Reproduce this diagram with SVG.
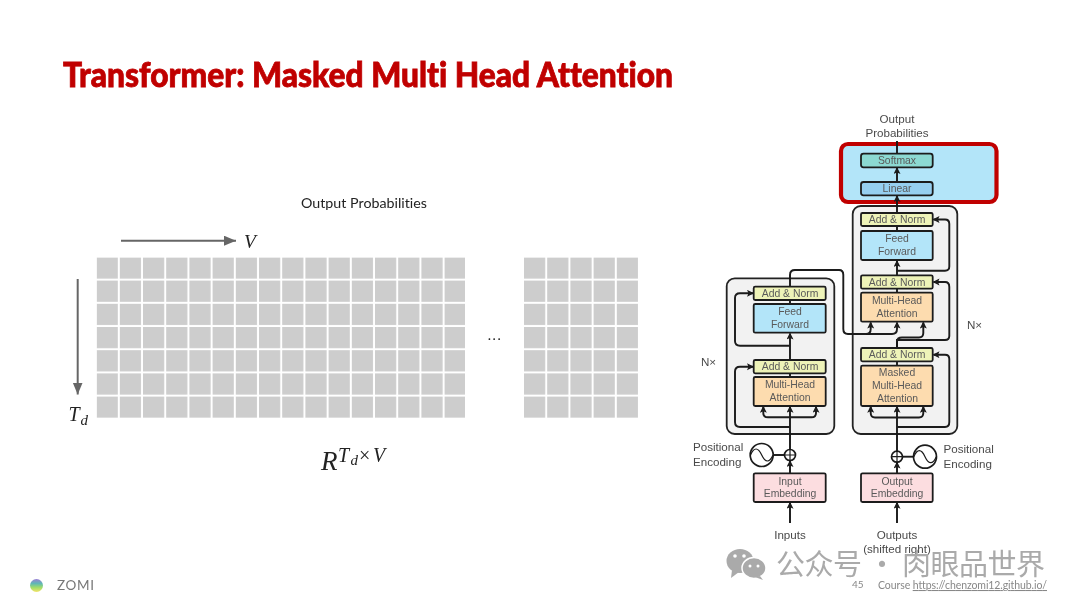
<svg xmlns="http://www.w3.org/2000/svg" width="1080" height="608" viewBox="0 0 1080 608">
<style>
text{font-variant-ligatures:none}
.cell{fill:#cdcdcd}
.lat{font-family:"Lato","Liberation Sans",sans-serif}
.math{font-family:"Liberation Serif","DejaVu Serif",serif;font-style:italic;fill:#222}
.box{stroke:#1d1d1d;stroke-width:1.8}
.stack{fill:#f2f2f2;stroke:#222;stroke-width:1.8}
.an{fill:#eef3b8}.ff{fill:#b3e5f9}.mha{fill:#fddcaf}.emb{fill:#fcdde0}
.nt{font-family:"Liberation Sans",Arial,sans-serif;font-size:10.4px;fill:#5a5a5a;text-anchor:middle}
.lb{font-family:"Liberation Sans",Arial,sans-serif;font-size:11.6px;fill:#4a4a4a}
.m{text-anchor:middle}
.cn{fill:none;stroke:#1a1a1a;stroke-width:1.9}
.ar{marker-end:url(#ah)}
.sine{fill:#fff;stroke:#1a1a1a;stroke-width:1.7}
</style>
<defs>
<marker id="ah" markerUnits="userSpaceOnUse" markerWidth="8" markerHeight="8" refX="6" refY="3.500" orient="auto"><path d="M0 0L7 3.500L0 7L1.500 3.500Z" fill="#1a1a1a"/></marker>
<marker id="gh" markerUnits="userSpaceOnUse" markerWidth="13" markerHeight="11" refX="12" refY="5" orient="auto"><path d="M0 0L12 5L0 10Z" fill="#666"/></marker>
<linearGradient id="lg" x1="0" y1="0" x2="0" y2="1"><stop offset="0" stop-color="#9a7fd6"/><stop offset=".35" stop-color="#5fb8b5"/><stop offset=".65" stop-color="#9fdc6a"/><stop offset="1" stop-color="#f5e46a"/></linearGradient>
<pattern id="gr" x="96.6" y="257.4" width="23.2" height="23.2" patternUnits="userSpaceOnUse"><rect class="cell" width="21.2" height="21.2"/></pattern>
<pattern id="gr2" x="524" y="257.4" width="23.2" height="23.2" patternUnits="userSpaceOnUse"><rect class="cell" width="21.2" height="21.2"/></pattern>
<filter id="soft" filterUnits="userSpaceOnUse" x="0" y="0" width="1080" height="608"><feGaussianBlur stdDeviation="0.4"/></filter>
</defs>
<rect width="1080" height="608" fill="#fff"/>
<g id="figure" filter="url(#soft)">
<text x="63" y="87" class="lat" font-size="34" font-weight="900" fill="#c00000" stroke="#c00000" stroke-width="0.8" textLength="610" lengthAdjust="spacingAndGlyphs">Transformer: Masked Multi Head Attention</text>
<text x="301" y="208" class="lat" font-size="14" fill="#222" textLength="126" lengthAdjust="spacingAndGlyphs">Output Probabilities</text>

<g id="matrix-left"><rect x="96.6" y="257.4" width="368.4" height="160.4" fill="url(#gr)"/></g>
<g id="matrix-right"><rect x="524" y="257.4" width="114" height="160.4" fill="url(#gr2)"/></g>
<text x="495" y="339.500" class="lat m" font-size="14" letter-spacing="1.500" fill="#222">...</text>

<g id="axes" fill="none" stroke="#666" stroke-width="2">
<path d="M121 240.7H236" marker-end="url(#gh)"/>
<path d="M77.7 279V394.5" marker-end="url(#gh)"/>
</g>
<text x="244" y="248" class="math" font-size="19.500">V</text>
<text x="68.500" y="421" class="math" font-size="20">T</text>
<text x="80.500" y="425" class="math" font-size="15">d</text>
<text x="321" y="470" class="math" font-size="27">R</text>
<text x="338" y="462" class="math" font-size="20">T</text>
<text x="350.500" y="465" class="math" font-size="15">d</text>
<text x="359" y="462" class="math" font-size="20" style="font-style:normal">×</text>
<text x="373" y="462" class="math" font-size="20">V</text>

<g id="output-highlight"><rect x="841" y="144" width="155.500" height="58" rx="7" fill="#b3e5f9" stroke="#c00000" stroke-width="4.200"/></g>

<g id="encoder-stack"><rect class="stack" x="726.700" y="278.300" width="107.600" height="155.700" rx="8"/></g>
<g id="decoder-stack"><rect class="stack" x="852.700" y="206" width="104.600" height="228" rx="8"/></g>

<g id="connectors">
<path class="cn" d="M897 153V141"/>
<path class="cn ar" d="M897 182V168"/>
<path class="cn ar" d="M897 213V196"/>
<path class="cn" d="M897 231V226"/>
<path class="cn ar" d="M897 275V261"/>
<path class="cn ar" d="M897 270.700H945Q949.300 270.700 949.300 266.500V224Q949.300 219.500 945 219.500H933.500"/>
<path class="cn" d="M897 292.700V288.700"/>
<path class="cn ar" d="M897 348V340H945Q949.300 340 949.300 336V287Q949.300 282 945 282H933.500"/>
<path class="cn ar" d="M897 348V342Q897 337.500 902 337.500H919Q923.300 337.500 923.300 333V322.500"/>
<path class="cn ar" d="M790 286.700V275Q790 270 795 270H839Q843.300 270 843.300 275V329Q843.300 334 848 334H892Q897 334 897 329V322.500"/>
<path class="cn ar" d="M866 334Q870.700 334 870.700 329V322.500"/>
<path class="cn" d="M897 365.700V361.300"/>
<path class="cn ar" d="M897 451V406.800"/>
<path class="cn ar" d="M897 417.500H875Q870.700 417.500 870.700 413V406.800"/>
<path class="cn ar" d="M897 417.500H919Q923.300 417.500 923.300 413V406.800"/>
<path class="cn ar" d="M897 427H945Q949.300 427 949.300 422V359Q949.300 354.700 945 354.700H933.500"/>
<path class="cn ar" d="M897 473.300V462.500"/>
<path class="cn ar" d="M897 523V502.800"/>
<path class="cn" d="M902.500 456.700H913.500"/>
<path class="cn" d="M790 304V300"/>
<path class="cn ar" d="M790 360V333.500"/>
<path class="cn ar" d="M790 345.700H740Q735 345.700 735 341V298Q735 293.300 740 293.300H753"/>
<path class="cn" d="M790 377V373.300"/>
<path class="cn ar" d="M790 449.500V406.800"/>
<path class="cn ar" d="M790 417.300H768Q763.300 417.300 763.300 413V406.800"/>
<path class="cn ar" d="M790 417.300H811.500Q816 417.300 816 413V406.800"/>
<path class="cn ar" d="M790 427H740Q735 427 735 422V371.500Q735 366.700 740 366.700H753"/>
<path class="cn ar" d="M790 473.300V461"/>
<path class="cn ar" d="M790 523V502.800"/>
<path class="cn" d="M773 455H784.500"/>
</g>

<g id="softmax"><rect class="box" x="861" y="153.700" width="71.700" height="13.600" rx="2.500" fill="#8cd9d2"/><text class="nt" x="897" y="164.300">Softmax</text></g>
<g id="linear"><rect class="box" x="861" y="182" width="71.700" height="13.300" rx="2.500" fill="#96cff0"/><text class="nt" x="897" y="192.400">Linear</text></g>
<g id="dec-addnorm-3"><rect class="box an" x="861" y="213" width="71.700" height="13" rx="1.500"/><text class="nt" x="897" y="223.200">Add &amp; Norm</text></g>
<g id="dec-feedforward"><rect class="box ff" x="861" y="231" width="71.700" height="29" rx="1.500"/><text class="nt" x="897" y="242">Feed</text><text class="nt" x="897" y="254.500">Forward</text></g>
<g id="dec-addnorm-2"><rect class="box an" x="861" y="275.300" width="71.700" height="13.400" rx="1.500"/><text class="nt" x="897" y="285.700">Add &amp; Norm</text></g>
<g id="dec-attention"><rect class="box mha" x="861" y="292.700" width="71.700" height="29" rx="1.500"/><text class="nt" x="897" y="304">Multi-Head</text><text class="nt" x="897" y="316.500">Attention</text></g>
<g id="dec-addnorm-1"><rect class="box an" x="861" y="348" width="71.700" height="13.300" rx="1.500"/><text class="nt" x="897" y="358.300">Add &amp; Norm</text></g>
<g id="dec-masked"><rect class="box mha" x="861" y="365.700" width="71.700" height="40.300" rx="1.500"/><text class="nt" x="897" y="376">Masked</text><text class="nt" x="897" y="389">Multi-Head</text><text class="nt" x="897.500" y="401.500">Attention</text></g>
<g id="output-embedding"><rect class="box emb" x="861" y="473.300" width="71.700" height="28.700" rx="1.500"/><text class="nt" x="897" y="484.500">Output</text><text class="nt" x="897" y="497">Embedding</text></g>
<g id="enc-addnorm-2"><rect class="box an" x="753.700" y="286.700" width="72" height="13.300" rx="1.500"/><text class="nt" x="790" y="297">Add &amp; Norm</text></g>
<g id="enc-feedforward"><rect class="box ff" x="753.700" y="304" width="72" height="28.700" rx="1.500"/><text class="nt" x="790" y="315">Feed</text><text class="nt" x="790" y="327.500">Forward</text></g>
<g id="enc-addnorm-1"><rect class="box an" x="753.700" y="360" width="72" height="13.300" rx="1.500"/><text class="nt" x="790" y="370.400">Add &amp; Norm</text></g>
<g id="enc-attention"><rect class="box mha" x="753.700" y="377" width="72" height="29" rx="1.500"/><text class="nt" x="790" y="388">Multi-Head</text><text class="nt" x="790" y="400.500">Attention</text></g>
<g id="input-embedding"><rect class="box emb" x="753.700" y="473.300" width="72" height="28.700" rx="1.500"/><text class="nt" x="790" y="484.500">Input</text><text class="nt" x="790" y="497">Embedding</text></g>

<g id="enc-add"><circle class="sine" cx="790" cy="455" r="5.500"/><path class="cn" style="stroke-width:1.200" d="M784.500 455H795.500M790 449.500V460.500"/></g>
<g id="dec-add"><circle class="sine" cx="897" cy="456.700" r="5.500"/><path class="cn" style="stroke-width:1.200" d="M891.500 456.700H902.500M897 451.200V462.200"/></g>
<g id="enc-sine"><circle class="sine" cx="761.700" cy="455" r="11.500"/><path class="cn" style="stroke-width:1.200" d="M750.500 455C754 447 758 447 761.700 455S769.500 463 773 455"/></g>
<g id="dec-sine"><circle class="sine" cx="925" cy="456.700" r="11.500"/><path class="cn" style="stroke-width:1.200" d="M913.800 456.700C917.300 448.700 921.300 448.700 925 456.700S932.800 464.700 936.300 456.700"/></g>

<g id="labels">
<text class="lb m" x="897" y="122.500">Output</text>
<text class="lb m" x="897" y="137">Probabilities</text>
<text class="lb" x="967" y="328.500">N×</text>
<text class="lb" x="701" y="366">N×</text>
<text class="lb" x="693" y="451">Positional</text>
<text class="lb" x="693" y="466">Encoding</text>
<text class="lb" x="943.500" y="453">Positional</text>
<text class="lb" x="943.500" y="468">Encoding</text>
<text class="lb m" x="790" y="538.500">Inputs</text>
<text class="lb m" x="897" y="538.500">Outputs</text>
<text class="lb m" x="897" y="553">(shifted right)</text>
</g>

<g id="watermark">
<ellipse cx="740" cy="561" rx="13.500" ry="12" fill="#aaa"/><path d="M732 570L731 578L739 572Z" fill="#aaa"/>
<ellipse cx="754" cy="568" rx="12" ry="10.500" fill="#aaa" stroke="#fff" stroke-width="1.500"/><path d="M760 576L763 580L755 577Z" fill="#aaa"/>
<circle cx="735" cy="556" r="1.800" fill="#fff"/><circle cx="744" cy="556" r="1.800" fill="#fff"/><circle cx="750" cy="566" r="1.500" fill="#fff"/><circle cx="758" cy="566" r="1.500" fill="#fff"/>
<text x="776" y="575" font-family="'Noto Sans CJK SC',sans-serif" font-size="29" fill="#aaa" textLength="269">公众号 · 肉眼品世界</text>
</g>

<g id="footer">
<circle cx="36.500" cy="585.500" r="6.500" fill="url(#lg)"/>
<text x="57" y="590" class="lat" font-size="13.500" fill="#777" textLength="37">ZOMI</text>
<text x="852" y="588" class="lat" font-size="10" fill="#888">45</text>
<text x="878" y="589" class="lat" font-size="10.500" fill="#888" textLength="169">Course <tspan text-decoration="underline">https://chenzomi12.github.io/</tspan></text>
</g>
</g>
</svg>
